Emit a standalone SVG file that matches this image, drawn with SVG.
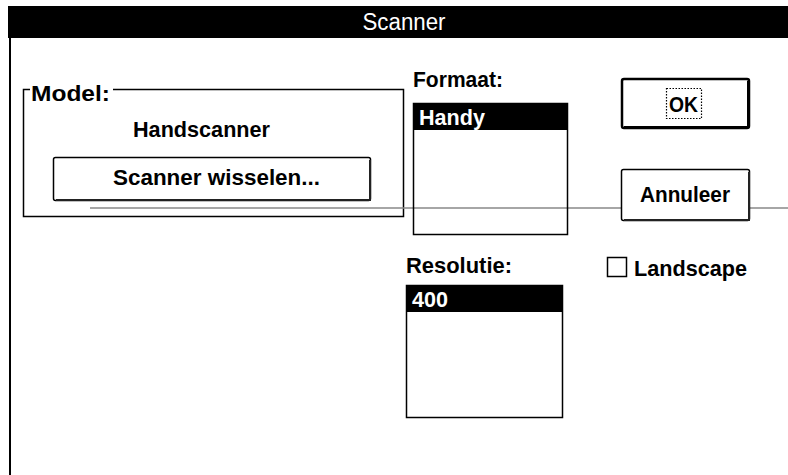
<svg xmlns="http://www.w3.org/2000/svg" width="788" height="475" viewBox="0 0 788 475">
<style>
.lbl{font-family:"Liberation Sans",Arial,sans-serif;font-weight:bold;font-size:22px;fill:#000}
.inv{fill:#fff}
.frame{fill:none;stroke:#000;stroke-width:1.5}
.btn{fill:#fff;stroke:#000;stroke-width:1.5}
.shadow{fill:none;stroke:#222;stroke-width:2}
</style>
<rect x="0" y="0" width="788" height="475" fill="#fff"/>
<g id="window">
  <rect x="8" y="6" width="780" height="32" fill="#000"/>
  <text x="404" y="30" text-anchor="middle" font-family="'Liberation Sans',Arial,sans-serif" font-size="23" fill="#fff" textLength="83" lengthAdjust="spacingAndGlyphs">Scanner</text>
  <line x1="10" y1="38" x2="10" y2="475" stroke="#000" stroke-width="2"/>
</g>
<g id="model-group">
  <polyline class="frame" points="30,89.5 23.5,89.5 23.5,216.5 403.5,216.5 403.5,89.5 113,89.5"/>
  <text class="lbl" x="31" y="101" textLength="79" lengthAdjust="spacingAndGlyphs">Model:</text>
  <text class="lbl" x="133" y="137" textLength="137" lengthAdjust="spacingAndGlyphs">Handscanner</text>
</g>
<g id="btn-wisselen">
  <rect class="btn" x="53.5" y="157.5" width="317" height="43" rx="2"/>
  <polyline class="shadow" points="56,200 370,200 370,160"/>
  <text class="lbl" x="113" y="185" textLength="207" lengthAdjust="spacingAndGlyphs">Scanner wisselen...</text>
</g>
<g id="divider">
  <line x1="90" y1="208" x2="788" y2="208" stroke="#888" stroke-width="1.5"/>
</g>
<g id="formaat">
  <text class="lbl" x="413" y="87" textLength="90" lengthAdjust="spacingAndGlyphs">Formaat:</text>
  <rect class="frame" x="413.5" y="103.5" width="154" height="131"/>
  <rect x="414" y="104" width="153" height="26" fill="#000"/>
  <text class="lbl inv" x="419" y="125" textLength="66" lengthAdjust="spacingAndGlyphs">Handy</text>
</g>
<g id="btn-ok">
  <rect x="622" y="79" width="127" height="49" fill="#fff" stroke="#000" stroke-width="2.5" rx="2"/>
  <polyline points="624,127 748,127 748,81" fill="none" stroke="#000" stroke-width="2"/>
  <rect x="666.5" y="88.5" width="35" height="30" fill="none" stroke="#000" stroke-width="1.2" stroke-dasharray="1.5,1.5"/>
  <text class="lbl" x="669" y="112" textLength="29" lengthAdjust="spacingAndGlyphs">OK</text>
</g>
<g id="btn-annuleer">
  <rect class="btn" x="621.5" y="169.5" width="128" height="51" rx="2"/>
  <polyline class="shadow" points="624,220 749,220 749,172"/>
  <text class="lbl" x="640" y="202" textLength="90" lengthAdjust="spacingAndGlyphs">Annuleer</text>
</g>
<g id="resolutie">
  <text class="lbl" x="406" y="273" textLength="106" lengthAdjust="spacingAndGlyphs">Resolutie:</text>
  <rect class="frame" x="406.5" y="285.5" width="156" height="132"/>
  <rect x="407" y="286" width="155" height="26" fill="#000"/>
  <text class="lbl inv" x="412" y="307" textLength="36" lengthAdjust="spacingAndGlyphs">400</text>
</g>
<g id="landscape">
  <rect x="607.5" y="257.5" width="19" height="19" fill="#fff" stroke="#000" stroke-width="1.5"/>
  <text class="lbl" x="634" y="276" textLength="113" lengthAdjust="spacingAndGlyphs">Landscape</text>
</g>
</svg>
